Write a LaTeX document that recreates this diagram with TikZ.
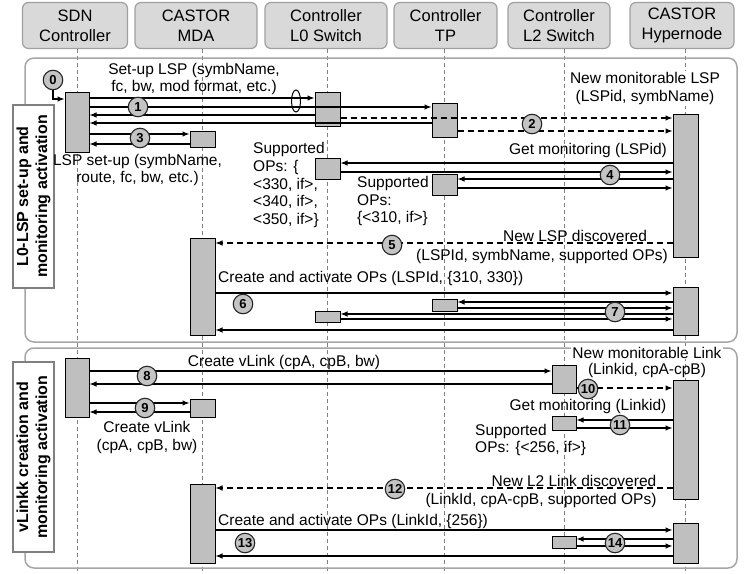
\documentclass[tikz,border=0pt]{standalone}
\usepackage{fontspec}
\setmainfont{Liberation Sans}
\usetikzlibrary{arrows.meta,shapes.geometric}
\definecolor{hdrfill}{HTML}{D9D9D9}
\definecolor{hdrline}{HTML}{A0A0A0}
\definecolor{sectline}{HTML}{A6A6A6}
\definecolor{labline}{HTML}{808080}
\definecolor{lifeline}{HTML}{808080}
\definecolor{barfill}{HTML}{BFBFBF}
\definecolor{numfill}{HTML}{C4C4C4}
\newcommand{\harr}[4][]{\draw[arr,#1] (#2 |- 0,#4) -- (#3 |- 0,#4);}
\newcommand{\actbar}[5]{\node[barbox, minimum width=#4pt, minimum height=#5pt] (#1) at (#2,#3) {};}
\newcommand{\numc}[3]{\node[numc] (n#1) at (#2,#3) {#1};}
\begin{document}
\begin{tikzpicture}[x=1pt,y=-1pt,
 hdr/.style={draw=hdrline, fill=hdrfill, rounded corners=6pt, line width=1.2pt, minimum height=46pt, align=center, inner sep=0pt, font=\fontsize{16.5}{20}\selectfont},
 sect/.style={draw=sectline, rounded corners=9pt, line width=1.5pt},
 lab/.style={draw=labline, fill=white, line width=1.2pt, rotate=90, align=center, inner sep=0pt, minimum height=41pt, font=\bfseries\fontsize{16}{19}\selectfont},
 life/.style={draw=lifeline, line width=0.7pt, dash pattern=on 4pt off 3pt},
 barbox/.style={draw=black, fill=barfill, line width=1pt, inner sep=0pt},
 arr/.style={line width=1.1pt, -{Latex[length=7pt,width=5.5pt]}},
 dsh/.style={dash pattern=on 6pt off 4pt},
 numc/.style={circle, draw=black!85, fill=numfill, line width=1.1pt, minimum size=19.5pt, inner sep=0pt, font=\bfseries\fontsize{13}{13}\selectfont},
 txt/.style={inner sep=0pt, align=center, font=\fontsize{15.5}{17.8}\selectfont},
 txtl/.style={inner sep=0pt, align=left, anchor=west, font=\fontsize{15.5}{17.8}\selectfont},
]
\useasboundingbox (0,0) rectangle (754,573);

% headers
\node[hdr, minimum width=105pt] (hA) at (75,25.5) {SDN\\Controller};
\node[hdr, minimum width=122pt] (hB) at (196,25.5) {CASTOR\\MDA};
\node[hdr, minimum width=122pt] (hC) at (326,25.5) {Controller\\L0 Switch};
\node[hdr, minimum width=103pt] (hD) at (445.5,25.5) {Controller\\TP};
\node[hdr, minimum width=102pt] (hE) at (559,25.5) {Controller\\L2 Switch};
\node[hdr, minimum width=104pt] (hF) at (682,25.5) {CASTOR\\Hypernode};

% lifelines
\coordinate (lA) at (77,48.5);
\coordinate (lB) at (202.5,48.5);
\coordinate (lC) at (327.5,48.5);
\coordinate (lD) at (444.5,48.5);
\coordinate (lE) at (564,48.5);
\coordinate (lF) at (685.5,48.5);
\foreach \l in {lA,lB,lC,lD,lE,lF} \draw[life] (\l) -- ++(0,525);

% sections
\draw[sect] (25,58) rectangle (737,342);
\draw[sect] (25,348) rectangle (737,568);
\node[lab, minimum width=183pt] (labA) at (33.5,196.5) {L0-LSP set-up and\\monitoring activation};
\node[lab, minimum width=190pt] (labB) at (33.5,457) {vLinkk creation and\\monitoring activation};

% texts that sit under the bars
\node[txt, fill=white, inner sep=1pt] (t10a) at (647,352.5) {New monitorable Link};
\node[txt] (t10b) at (647,370.5) {(Linkid, cpA-cpB)};
\node[txt, fill=white, inner sep=1pt] (t2) at (645,88.5) {New monitorable LSP\\(LSPid, symbName)};

% activation bars
\actbar{sdnA}{77}{122}{24}{60}
\actbar{l0A}{327.5}{109}{25}{34}
\actbar{tpA}{444.5}{120}{25}{34}
\actbar{mdaA}{202.5}{139}{25}{16}
\actbar{hnA}{685.5}{185.5}{25}{143}
\actbar{l0B}{327.5}{168.5}{25}{21}
\actbar{tpB}{444.5}{184.5}{25}{21}
\actbar{mdaB}{202.5}{286.5}{25}{97}
\actbar{hnB}{685.5}{311}{25}{48}
\actbar{tpC}{444.5}{305}{25}{12}
\actbar{l0C}{327.5}{316.5}{25}{11}
\actbar{sdnB}{77}{387.5}{24}{59}
\actbar{l2A}{564}{379}{24}{28}
\actbar{mdaC}{202.5}{408}{25}{18}
\actbar{hnC}{685.5}{439.5}{25}{119}
\actbar{l2B}{564}{423}{24}{14}
\actbar{mdaD}{202.5}{523.5}{25}{79}
\actbar{hnD}{685.5}{543}{25}{40}
\actbar{l2C}{564}{542}{24}{12}

% message 1
\harr{sdnA.east}{l0A.west}{98}
\harr{sdnA.east}{tpA.west}{107}
\harr{l0A.west}{sdnA.east}{115}
\harr{tpA.west}{sdnA.east}{123}
\node[draw, ellipse, line width=1pt, minimum width=9pt, minimum height=22pt, inner sep=0pt] (ell) at (296,101) {};
\node[txt] (t1) at (194,79) {Set-up LSP (symbName,\\fc, bw, mod format, etc.)};
% message 2
\harr[dsh]{l0A.east}{hnA.west}{118}
\harr[dsh]{tpA.east}{hnA.west}{131}
% message 3
\harr{sdnA.east}{mdaA.west}{134}
\harr{mdaA.west}{sdnA.east}{144}
\node[txt] (t3) at (137.5,170) {LSP set-up (symbName,\\route, fc, bw, etc.)};
% message 4
\node[txt] (t4) at (588,150) {Get monitoring (LSPid)};
\harr{hnA.west}{l0B.east}{163}
\harr{l0B.east}{hnA.west}{172}
\harr{hnA.west}{tpB.east}{179}
\harr{tpB.east}{hnA.west}{188}
\node[txtl] (t4a) at (253,185) {Supported\\OPs: \{\\<330, if>,\\<340, if>,\\<350, if>\}};
\node[txtl] (t4b) at (357,201) {Supported\\OPs:\\\{<310, if>\}};
% message 5
\harr[dsh]{hnA.west}{mdaB.east}{243}
\node[txt] (t5a) at (575,236) {New LSP discovered};
\node[txt] (t5b) at (542,256) {(LSPId, symbName, supported OPs)};
% message 6
\node[txt, anchor=west] (t6) at (218,278) {Create and activate OPs (LSPId, \{310, 330\})};
\harr{mdaB.east}{hnB.west}{293}
% message 7
\harr{hnB.west}{tpC.east}{302}
\harr{tpC.east}{hnB.west}{308}
\harr{hnB.west}{l0C.east}{314}
\harr{l0C.east}{hnB.west}{319}
\harr{hnB.west}{mdaB.east}{330}

% message 8
\node[txt] (t8) at (284,362) {Create vLink (cpA, cpB, bw)};
\harr{sdnB.east}{l2A.west}{371}
\harr{l2A.west}{sdnB.east}{384}
% message 9
\harr{sdnB.east}{mdaC.west}{403}
\harr{mdaC.west}{sdnB.east}{412}
\node[txt] (t9) at (147,437.5) {Create vLink\\(cpA, cpB, bw)};
% message 10
\harr[dsh]{l2A.east}{hnC.west}{388}
% message 11
\node[txt] (t11) at (588,406) {Get monitoring (Linkid)};
\harr{hnC.west}{l2B.east}{420}
\harr{l2B.east}{hnC.west}{428}
\node[txtl] (t11a) at (475,440) {Supported\\OPs: \{<256, if>\}};
% message 12
\harr[dsh]{hnC.west}{mdaD.east}{488}
\node[txt] (t12a) at (574,481) {New L2 Link discovered};
\node[txt] (t12b) at (541,500) {(LinkId, cpA-cpB, supported OPs)};
% message 13/14
\node[txt, anchor=west] (t13) at (218,521) {Create and activate OPs (LinkId, \{256\})};
\harr{mdaD.east}{hnD.west}{530}
\harr{hnD.west}{l2C.east}{539}
\harr{l2C.east}{hnD.west}{546}
\harr{hnD.west}{mdaD.east}{556}

% numbered circles
\numc{0}{53}{80}
\numc{1}{138}{107}
\numc{2}{532}{124}
\numc{3}{140}{138}
\numc{4}{610}{175}
\numc{5}{392}{245}
\numc{6}{243}{304}
\numc{7}{615}{312}
\numc{8}{147}{376}
\numc{9}{145}{408}
\numc{10}{588}{389}
\numc{11}{620}{425}
\numc{12}{395}{489}
\numc{13}{245}{543}
\numc{14}{615}{543}
\draw[arr] (n0.south) |- (sdnA.west |- 0,99);
\end{tikzpicture}
\end{document}
